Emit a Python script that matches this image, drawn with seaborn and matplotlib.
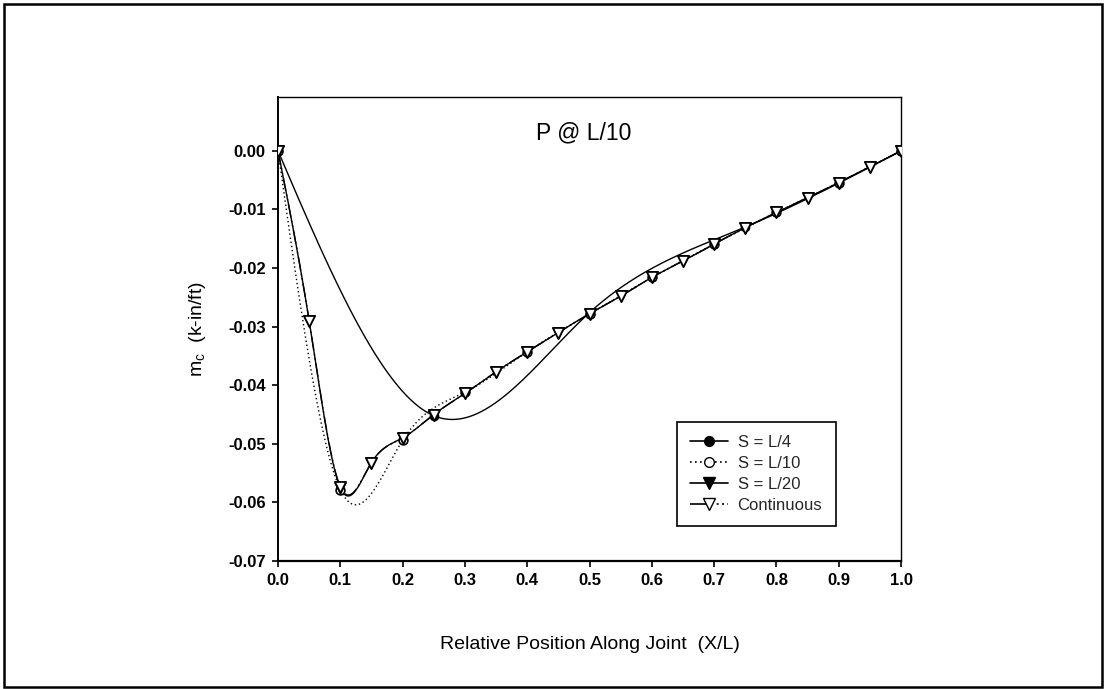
import numpy as np
import pandas as pd
import matplotlib
matplotlib.use("Agg")
import matplotlib.pyplot as plt
import seaborn as sns
from matplotlib.lines import Line2D
from matplotlib.patches import Rectangle

# ---------------- data ----------------
x_L4 = [0.0, 0.25, 0.5, 0.75, 1.0]
m_L4 = [0.0, -0.0452, -0.0276, -0.0130, 0.0]

x_L10 = [0.0, 0.1, 0.2, 0.3, 0.4, 0.5, 0.6, 0.7, 0.8, 0.9, 1.0]
m_L10 = [0.0, -0.0578, -0.0494, -0.0412, -0.0343, -0.0278, -0.0216,
         -0.0159, -0.0105, -0.0054, 0.0]

x_L20 = [0.0, 0.05, 0.1, 0.15, 0.2, 0.25, 0.3, 0.35, 0.4, 0.45, 0.5,
         0.55, 0.6, 0.65, 0.7, 0.75, 0.8, 0.85, 0.9, 0.95, 1.0]
m_L20 = [0.0, -0.0290, -0.0575, -0.0532, -0.0490, -0.0450, -0.0414,
         -0.0377, -0.0343, -0.0310, -0.0278, -0.0248, -0.0216, -0.0188,
         -0.0159, -0.0131, -0.0105, -0.0080, -0.0054, -0.0027, 0.0]

x_cont = [0.0, 0.05, 0.1, 0.15, 0.2, 0.25, 0.3, 0.35, 0.4, 0.45, 0.5,
          0.55, 0.6, 0.65, 0.7, 0.75, 0.8, 0.85, 0.9, 0.95, 1.0]
m_cont = [0.0, -0.0290, -0.0573, -0.0532, -0.0490, -0.0450, -0.0414,
          -0.0377, -0.0343, -0.0310, -0.0278, -0.0248, -0.0216, -0.0188,
          -0.0159, -0.0131, -0.0105, -0.0080, -0.0054, -0.0027, 0.0]

series_names = ["S = L/4", "S = L/10", "S = L/20", "Continuous"]
x_ticks = [0.0, 0.1, 0.2, 0.3, 0.4, 0.5, 0.6, 0.7, 0.8, 0.9, 1.0]
y_ticks = [0.00, -0.01, -0.02, -0.03, -0.04, -0.05, -0.06, -0.07]
title_text = "P @ L/10"
x_label = "Relative Position Along Joint  (X/L)"
y_label = r"m$_{\mathregular{c}}$  (k-in/ft)"


def spline_curve(x, y, n=500):
    """Natural cubic spline used only to render the smooth connecting line."""
    x = np.asarray(x, float)
    y = np.asarray(y, float)
    k = len(x)
    h = np.diff(x)
    A = np.zeros((k, k))
    r = np.zeros(k)
    A[0, 0] = A[-1, -1] = 1.0
    for i in range(1, k - 1):
        A[i, i - 1] = h[i - 1]
        A[i, i] = 2 * (h[i - 1] + h[i])
        A[i, i + 1] = h[i]
        r[i] = 3 * ((y[i + 1] - y[i]) / h[i] - (y[i] - y[i - 1]) / h[i - 1])
    c = np.linalg.solve(A, r)
    b = (y[1:] - y[:-1]) / h - h * (2 * c[:-1] + c[1:]) / 3
    d = (c[1:] - c[:-1]) / (3 * h)
    xs = np.linspace(x[0], x[-1], n)
    idx = np.clip(np.searchsorted(x, xs, side="right") - 1, 0, k - 2)
    t = xs - x[idx]
    ys = y[idx] + b[idx] * t + c[idx] * t ** 2 + d[idx] * t ** 3
    return xs, ys


# ---------------- styling ----------------
sns.set_theme(style="white")
plt.rcParams["font.family"] = ["Liberation Sans", "DejaVu Sans"]
plt.rcParams["mathtext.default"] = "regular"

fig = plt.figure(figsize=(11.05, 6.89), dpi=100)
ax = fig.add_axes([0.2516, 0.1858, 0.5638, 0.6734])

dot_ls = (0, (1, 2))
dash_dot = (0, (10, 2.5, 1.2, 2, 1.2, 2.5))
line_styles = ["-", dot_ls, "-", dash_dot]
xs_all = [x_L4, x_L10, x_L20, x_cont]
ms_all = [m_L4, m_L10, m_L20, m_cont]

for i, (xv, mv, ls) in enumerate(zip(xs_all, ms_all, line_styles)):
    sx, sy = spline_curve(xv, mv)
    df = pd.DataFrame({"x": sx, "m": sy})
    sns.lineplot(data=df, x="x", y="m", ax=ax, color="black", lw=1.0,
                 linestyle=ls, sort=False, estimator=None, zorder=2 + i)

# markers
sns.scatterplot(x=x_L4, y=m_L4, ax=ax, marker="o", s=36, color="black",
                edgecolor="black", linewidth=1.0, zorder=10)
sns.scatterplot(x=x_L10, y=m_L10, ax=ax, marker="o", s=40, color="white",
                edgecolor="black", linewidth=1.2, zorder=11)
sns.scatterplot(x=x_L20, y=m_L20, ax=ax, marker="v", s=64, color="black",
                edgecolor="black", linewidth=1.0, zorder=12)
sns.scatterplot(x=x_cont, y=m_cont, ax=ax, marker="v", s=64, color="white",
                edgecolor="black", linewidth=1.3, zorder=13)

ax.set_xlim(0.0, 1.0)
ax.set_ylim(-0.07, 0.0092)
ax.set_xticks(x_ticks)
ax.set_xticklabels([f"{v:.1f}" for v in x_ticks])
ax.set_yticks(y_ticks)
ax.set_yticklabels([f"{v:.2f}" for v in y_ticks])
ax.tick_params(axis="both", direction="out", length=4, width=1.2,
               labelsize=12, color="black", labelcolor="black", pad=5,
               bottom=True, left=True)
for lab in ax.get_xticklabels() + ax.get_yticklabels():
    lab.set_fontweight("bold")

for sp in ax.spines.values():
    sp.set_color("black")
    sp.set_linewidth(1.0)
ax.spines["bottom"].set_linewidth(1.6)
ax.spines["left"].set_linewidth(1.4)

ax.set_xlabel(x_label, fontsize=14, color="black", labelpad=34)
ax.set_ylabel(y_label, fontsize=14, color="black", labelpad=14)
ax.text(0.49, 0.922, title_text, transform=ax.transAxes, ha="center",
        va="center", fontsize=16.5, color="black")

handles = [
    Line2D([0], [0], color="black", lw=1.2, ls="-", marker="o", ms=7,
           mfc="black", mec="black"),
    Line2D([0], [0], color="black", lw=1.2, ls=dot_ls, marker="o",
           ms=7, mfc="white", mec="black"),
    Line2D([0], [0], color="black", lw=1.2, ls="-", marker="v", ms=8,
           mfc="black", mec="black"),
    Line2D([0], [0], color="black", lw=1.2, ls=(0, (13, 3, 1.2, 2, 1.2, 2)),
           marker="v", ms=8, mfc="white", mec="black"),
]
leg = ax.legend(handles, series_names, loc="upper left",
                bbox_to_anchor=(0.640, 0.300), fontsize=12, frameon=True,
                fancybox=False, edgecolor="black", framealpha=1,
                handlelength=2.3, handletextpad=0.55, labelspacing=0.35,
                borderpad=0.8, borderaxespad=0, numpoints=1)
leg.get_frame().set_linewidth(1.2)

# outer frame around the whole graphic
fig.patches.append(Rectangle((0.004, 0.003), 0.993, 0.991,
                             transform=fig.transFigure, fill=False,
                             edgecolor="black", linewidth=1.8))

fig.savefig("out.png", dpi=100)
